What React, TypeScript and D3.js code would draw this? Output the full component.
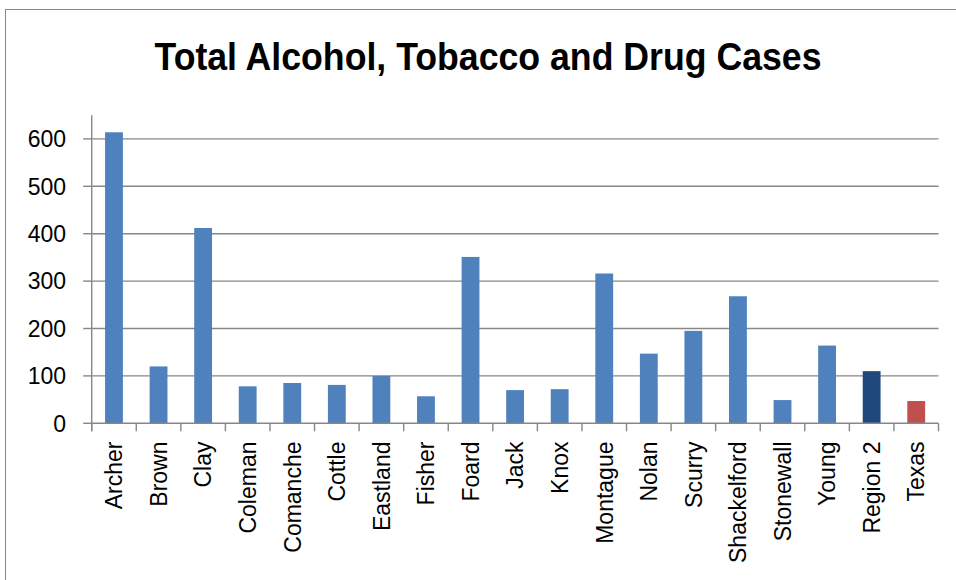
import React from "react";
import * as d3 from "d3";

const categories = ["Archer", "Brown", "Clay", "Coleman", "Comanche", "Cottle", "Eastland", "Fisher", "Foard", "Jack", "Knox", "Montague", "Nolan", "Scurry", "Shackelford", "Stonewall", "Young", "Region 2", "Texas"];
const values = [614, 120, 412, 78, 85, 81, 100, 57, 351, 70, 72, 316, 147, 195, 268, 49, 164, 110, 47];
const barColors = ["#4F81BD", "#4F81BD", "#4F81BD", "#4F81BD", "#4F81BD", "#4F81BD", "#4F81BD", "#4F81BD", "#4F81BD", "#4F81BD", "#4F81BD", "#4F81BD", "#4F81BD", "#4F81BD", "#4F81BD", "#4F81BD", "#4F81BD", "#1F497D", "#C0504D"];
const yTicks = [0, 100, 200, 300, 400, 500, 600];
const title = "Total Alcohol, Tobacco and Drug Cases";

const W = 956;
const H = 580;
const plotLeft = 91.7;
const plotRight = 938.5;
const plotTop = 115.2;
const plotBottom = 423.3;
const yMax = 650;
const gridColor = "#878787";
const font = "'Liberation Sans', Arial, sans-serif";

export default function App() {
  const x = d3.scaleBand<string>().domain(categories).range([plotLeft, plotRight]).padding(0);
  const y = d3.scaleLinear().domain([0, yMax]).range([plotBottom, plotTop]);
  const bw = x.bandwidth();
  const barW = bw * 0.4;
  const boundaries = d3.range(categories.length + 1).map((i) => plotLeft + i * bw);

  return (
    <svg width={W} height={H} style={{ position: "absolute", left: 0, top: 0, background: "#fff" }}>
      <rect x={0} y={0} width={W} height={H} fill="#fff" />
      <rect x={5.5} y={9.5} width={W + 20} height={H + 20} fill="none" stroke="#888" strokeWidth={1} />
      <text
        x={488}
        y={70}
        textAnchor="middle"
        fontFamily={font}
        fontWeight="bold"
        fontSize={38}
        textLength={667}
        lengthAdjust="spacingAndGlyphs"
        fill="#000"
      >
        {title}
      </text>
      {yTicks.map((t) => (
        <g key={t}>
          {t > 0 && (
            <line x1={plotLeft} x2={plotRight} y1={y(t)} y2={y(t)} stroke={gridColor} strokeWidth={1.4} />
          )}
          <line x1={plotLeft - 8.5} x2={plotLeft} y1={y(t)} y2={y(t)} stroke={gridColor} strokeWidth={1.4} />
          <text x={66} y={y(t)} dy="0.36em" textAnchor="end" fontFamily={font} fontSize={23} fill="#000">
            {t}
          </text>
        </g>
      ))}
      {categories.map((c, i) => (
        <rect
          key={c}
          x={(x(c) as number) + (bw - barW) / 2}
          y={y(values[i])}
          width={barW}
          height={plotBottom - y(values[i])}
          fill={barColors[i]}
        />
      ))}
      <line x1={plotLeft} x2={plotLeft} y1={plotTop} y2={plotBottom + 8} stroke={gridColor} strokeWidth={1.4} />
      <line x1={plotLeft} x2={plotRight} y1={plotBottom} y2={plotBottom} stroke={gridColor} strokeWidth={1.4} />
      {boundaries.map((bx, i) => (
        <line key={i} x1={bx} x2={bx} y1={plotBottom} y2={plotBottom + 8} stroke={gridColor} strokeWidth={1.4} />
      ))}
      {categories.map((c) => {
        const cx = (x(c) as number) + bw / 2;
        const ty = 441.5;
        return (
          <text
            key={c}
            transform={`translate(${cx},${ty}) rotate(-90)`}
            dy="0.36em"
            textAnchor="end"
            fontFamily={font}
            fontSize={23}
            fill="#000"
          >
            {c}
          </text>
        );
      })}
    </svg>
  );
}
